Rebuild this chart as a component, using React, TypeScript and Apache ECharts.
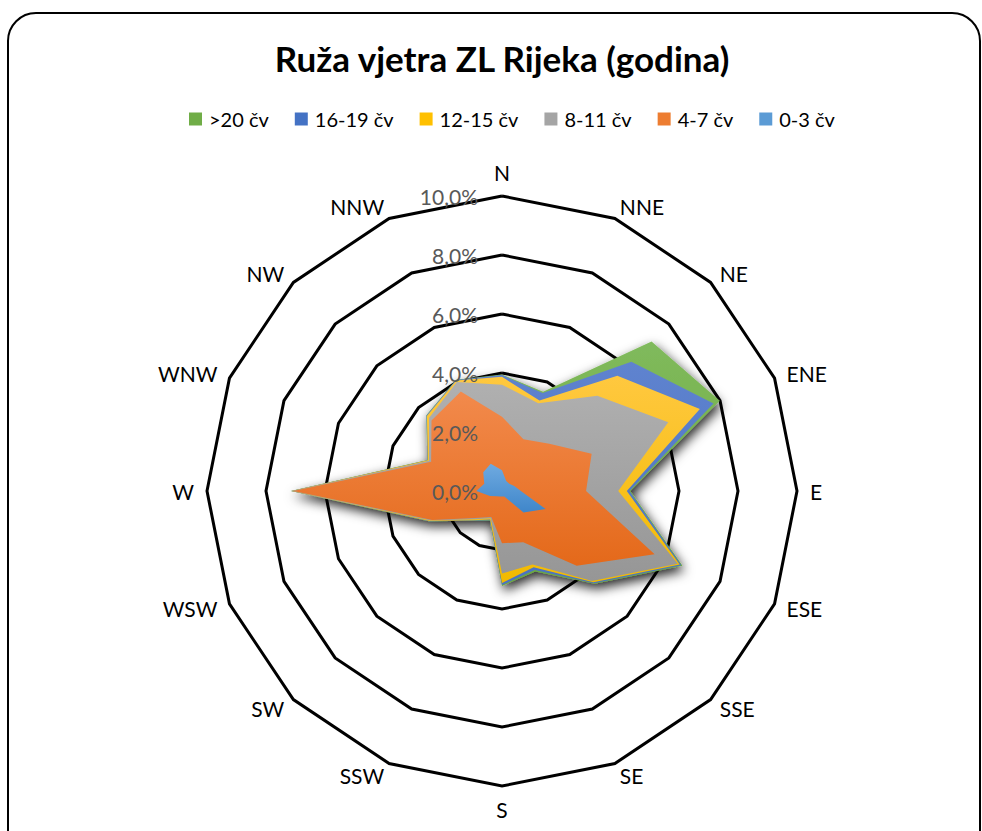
import React, { useEffect, useRef } from 'react';
import * as echarts from 'echarts';

const titleText = 'Ruža vjetra ZL Rijeka (godina)';
const directions = ['N', 'NNE', 'NE', 'ENE', 'E', 'ESE', 'SSE', 'SE', 'S', 'SSW', 'SW', 'WSW', 'W', 'WNW', 'NW', 'NNW'];
const seriesNames = ['>20 čv', '16-19 čv', '12-15 čv', '8-11 čv', '4-7 čv', '0-3 čv'];
const axisMax = 10;
const axisSplits = 5;

// cumulative frequencies (%), order as in directions
const over20 = [3.95, 3.64, 7.17, 7.99, 4.35, 6.62, 4.45, 2.95, 3.22, 1.08, 1.43, 2.68, 7.16, 2.74, 3.63, 4.08];
const kt16to19 = [3.93, 3.60, 6.20, 7.76, 4.32, 6.58, 4.42, 2.90, 3.19, 1.07, 1.42, 2.67, 7.15, 2.73, 3.62, 4.07];
const kt12to15 = [3.87, 3.32, 5.53, 7.26, 4.23, 6.52, 4.38, 2.80, 3.12, 1.05, 1.40, 2.66, 7.14, 2.72, 3.60, 4.05];
const kt8to11 = [3.60, 3.22, 4.57, 6.10, 3.94, 6.45, 4.32, 2.70, 2.80, 1.00, 1.35, 2.62, 7.12, 2.68, 3.50, 4.00];
const kt4to7 = [2.52, 1.90, 2.27, 3.29, 2.85, 5.60, 3.58, 1.88, 1.77, 0.95, 1.30, 2.56, 7.07, 2.60, 3.38, 3.65];
const kt0to3 = [0.70, 0.37, 0.35, 0.45, 0.64, 1.60, 1.03, 0.20, 0.19, 0.20, 0.25, 0.44, 0.87, 0.65, 0.90, 1.00];

const seriesValues = [over20, kt16to19, kt12to15, kt8to11, kt4to7, kt0to3];

const FONT = 'Lato, "Open Sans", sans-serif';

export default function App() {
  const ref = useRef<HTMLDivElement>(null);

  useEffect(() => {
    if (!ref.current) return;
    const chart = echarts.init(ref.current, undefined, { renderer: 'svg' });

    // ECharts radar lays indicators counter-clockwise; reorder so they go clockwise
    const order = directions.map((_, i) => (i === 0 ? 0 : directions.length - i));

    const grad = (top: string, bottom: string) =>
      new echarts.graphic.LinearGradient(0, 0, 0, 1, [
        { offset: 0, color: top },
        { offset: 1, color: bottom },
      ]);

    const fills = [
      grad('#80BA5C', '#6AA83E'),
      grad('#5F83CF', '#4A72C2'),
      grad('#FFC83F', '#F2BA00'),
      grad('#B0B0B0', '#969696'),
      grad('#F28A4C', '#E4691A'),
      grad('#6FAAE0', '#3F86CA'),
    ];
    const legendColors = ['#70AD47', '#4472C4', '#FFC000', '#A5A5A5', '#ED7D31', '#5B9BD5'];

    const makeIndicator = (withLabel: boolean) =>
      order.map((idx, k) => {
        const ind: any = { name: directions[idx], min: 0, max: axisMax };
        if (withLabel && k === 0) ind.axisLabel = { show: true };
        return ind;
      });

    const labelFmt = (v: number) => v.toFixed(1).replace('.', ',') + '%';

    chart.setOption({
      animation: false,
      backgroundColor: '#ffffff',
      title: {
        text: titleText,
        left: 'center',
        top: 35,
        textStyle: { fontFamily: FONT, fontSize: 35, fontWeight: 'bold', color: '#000' },
      },
      legend: {
        top: 104,
        left: 184,
        icon: 'rect',
        itemWidth: 13,
        itemHeight: 13,
        itemGap: 26,
        data: seriesNames.map((n, i) => ({ name: n, itemStyle: { color: legendColors[i] } })),
        textStyle: { fontFamily: FONT, fontSize: 20, color: '#000', padding: [0, 0, 0, 2] },
      },
      graphic: [
        {
          type: 'rect',
          shape: { x: 8, y: 13, width: 972, height: 900, r: 28 },
          style: { fill: 'none', stroke: '#000', lineWidth: 2 },
          silent: true,
        },
      ],
      radar: [
        {
          center: [502, 491],
          radius: 295,
          startAngle: 90,
          shape: 'polygon',
          splitNumber: axisSplits,
          indicator: makeIndicator(false),
          axisName: { color: '#000', fontFamily: FONT, fontSize: 21 },
          nameGap: 13,
          axisLine: { show: false },
          axisTick: { show: false },
          splitArea: { show: false },
          splitLine: { lineStyle: { color: '#000', width: 3 } },
          axisLabel: { show: false },
        },
        {
          center: [502, 491],
          radius: 295,
          startAngle: 90,
          shape: 'polygon',
          splitNumber: axisSplits,
          indicator: makeIndicator(true),
          z: 20,
          axisName: { show: false },
          axisLine: { show: false },
          axisTick: { show: false },
          splitArea: { show: false },
          splitLine: { show: false },
          axisLabel: {
            show: false,
            showMinLabel: true,
            showMaxLabel: true,
            color: '#595959',
            fontFamily: FONT,
            fontSize: 21,
            margin: 24,
            formatter: labelFmt,
          },
        },
      ],
      series: seriesNames.map((name, i) => ({
        type: 'radar',
        name,
        radarIndex: 0,
        symbol: 'none',
        z: 2 + i,
        itemStyle: { color: legendColors[i] },
        lineStyle: { width: 0 },
        areaStyle:
          i === 0
            ? {
                color: fills[i],
                opacity: 1,
                shadowBlur: 12,
                shadowColor: 'rgba(0,0,0,0.85)',
                shadowOffsetX: 2,
                shadowOffsetY: 5,
              }
            : { color: fills[i], opacity: 1 },
        data: [{ name, value: order.map((idx) => seriesValues[i][idx]) }],
      })),
    });

    return () => chart.dispose();
  }, []);

  return (
    <div style={{ position: 'fixed', left: 0, top: 0, width: 982, height: 831, overflow: 'hidden', background: '#fff' }}>
      <div ref={ref} style={{ width: 1004, height: 831 }} />
    </div>
  );
}
